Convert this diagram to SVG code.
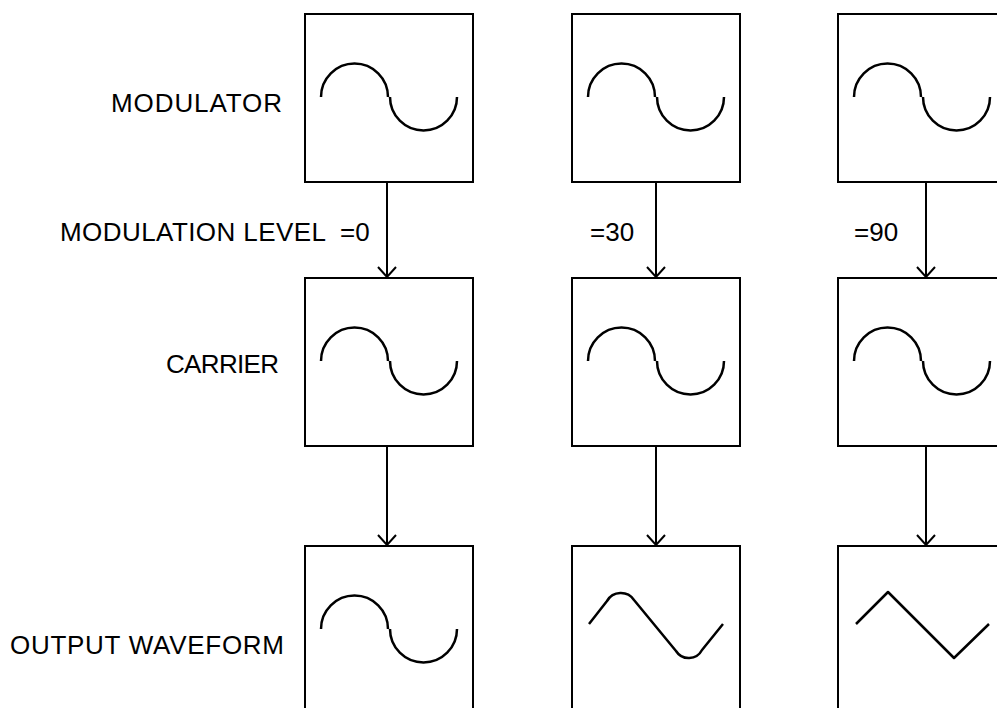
<svg xmlns="http://www.w3.org/2000/svg" width="997" height="708" viewBox="0 0 997 708">
<style>
.box{fill:#fff;stroke:#000;stroke-width:2}
.wave{fill:none;stroke:#000;stroke-width:2.5;stroke-linejoin:round}
.conn{stroke:#000;stroke-width:2;fill:none}
.lbl{font-family:"Liberation Sans",Arial,sans-serif;font-size:26px;fill:#000}
</style>
<defs>
<marker id="ah" markerUnits="userSpaceOnUse" markerWidth="24" markerHeight="24" refX="0" refY="0" orient="auto" viewBox="-12 -12 24 24" overflow="visible">
<path d="M-10,-9 L0,0 L-10,9" fill="none" stroke="#000" stroke-width="2"/>
</marker>
<g id="sine">
<path class="wave" d="M16,83 A33.5,33.5 0 0 1 83,83"/>
<path class="wave" d="M85,83 A33.5,33.5 0 0 0 152,83"/>
</g>
</defs>
<g id="labels">
<text class="lbl" x="111" y="112" textLength="171" lengthAdjust="spacing">MODULATOR</text>
<text class="lbl" x="60" y="241" textLength="266" lengthAdjust="spacing">MODULATION LEVEL</text>
<text class="lbl" x="340" y="241">=0</text>
<text class="lbl" x="590" y="241">=30</text>
<text class="lbl" x="854" y="241">=90</text>
<text class="lbl" x="166" y="373" textLength="113" lengthAdjust="spacing">CARRIER</text>
<text class="lbl" x="10" y="654" textLength="274" lengthAdjust="spacing">OUTPUT WAVEFORM</text>
</g>
<g id="connectors">
<line class="conn" x1="387" y1="182" x2="387" y2="277" marker-end="url(#ah)"/>
<line class="conn" x1="656" y1="182" x2="656" y2="277" marker-end="url(#ah)"/>
<line class="conn" x1="926" y1="182" x2="926" y2="277" marker-end="url(#ah)"/>
<line class="conn" x1="387" y1="447" x2="387" y2="545" marker-end="url(#ah)"/>
<line class="conn" x1="656" y1="447" x2="656" y2="545" marker-end="url(#ah)"/>
<line class="conn" x1="926" y1="447" x2="926" y2="545" marker-end="url(#ah)"/>
</g>
<g id="mod0"><rect class="box" x="305" y="14" width="168" height="168"/><use href="#sine" x="305" y="14"/></g>
<g id="mod30"><rect class="box" x="572" y="14" width="168" height="168"/><use href="#sine" x="572" y="14"/></g>
<g id="mod90"><rect class="box" x="838" y="14" width="168" height="168"/><use href="#sine" x="838" y="14"/></g>
<g id="car0"><rect class="box" x="305" y="278" width="168" height="168"/><use href="#sine" x="305" y="278"/></g>
<g id="car30"><rect class="box" x="572" y="278" width="168" height="168"/><use href="#sine" x="572" y="278"/></g>
<g id="car90"><rect class="box" x="838" y="278" width="168" height="168"/><use href="#sine" x="838" y="278"/></g>
<g id="out0"><rect class="box" x="305" y="546" width="168" height="168"/><use href="#sine" x="305" y="546"/></g>
<g id="out30"><rect class="box" x="572" y="546" width="168" height="168"/>
<path class="wave" d="M589,624 L607,601 A16,16 0 0 1 634,600 L676,651 A15,15 0 0 0 702,650 L723,624"/></g>
<g id="out90"><rect class="box" x="838" y="546" width="168" height="168"/>
<path class="wave" d="M856,624 L888,592 L954,658 L989,624"/></g>
</svg>
